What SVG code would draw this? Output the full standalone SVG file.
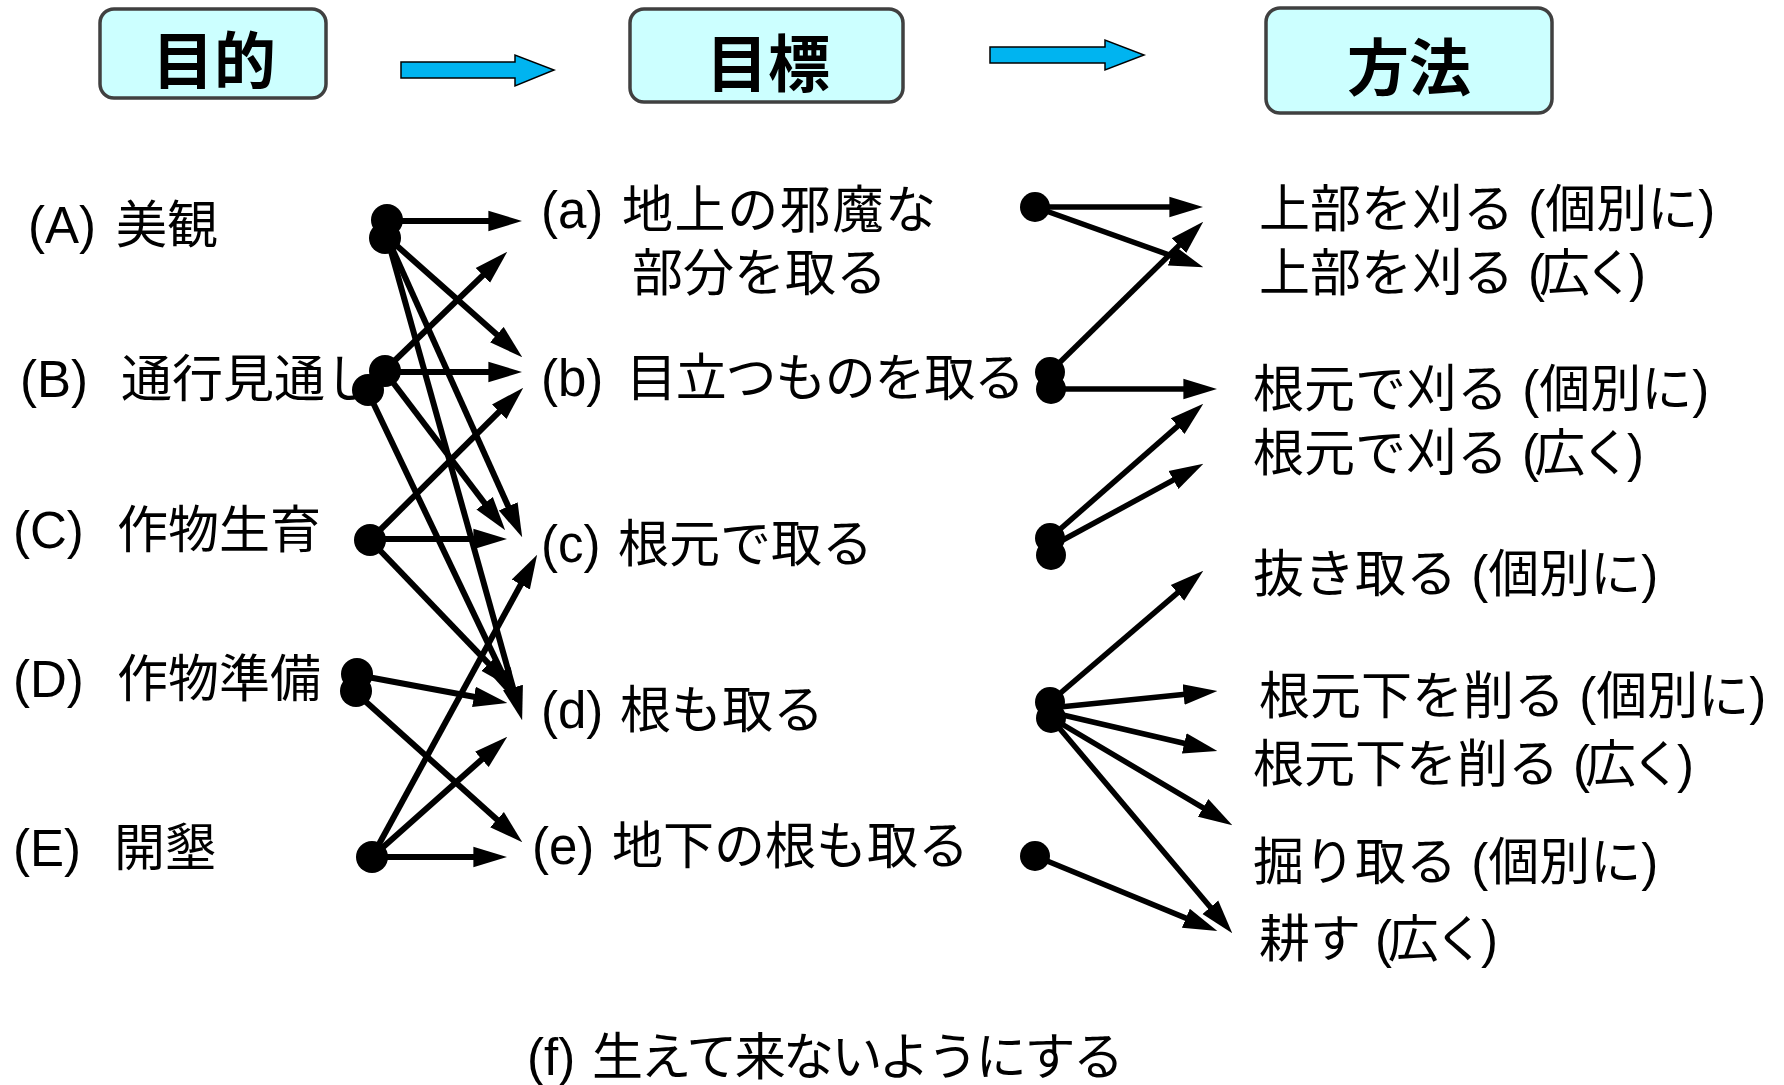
<svg xmlns="http://www.w3.org/2000/svg" width="1784" height="1085" viewBox="0 0 1784 1085">
<style>
.t{font-family:"Liberation Sans","Noto Sans CJK JP",sans-serif;font-size:51px;fill:#000}
.h{font-family:"Noto Sans CJK JP","Liberation Sans",sans-serif;font-size:62px;font-weight:bold;fill:#000;text-anchor:middle;dominant-baseline:central}
.box{fill:#CCFFFF;stroke:#404040;stroke-width:3.5}
.barrow{fill:#00B4F0;stroke:#000;stroke-width:1.5}
.ln{stroke:#000;stroke-width:6;fill:none;marker-end:url(#ah)}
.rl{stroke:#000;stroke-width:5.5;fill:none;marker-end:url(#ah)}
.dot{fill:#000}
</style>
<defs>
<marker id="ah" markerUnits="userSpaceOnUse" markerWidth="34" markerHeight="22" viewBox="0 0 33 20" refX="21" refY="10" orient="auto"><path d="M0,0 L33,10 L0,20 z" fill="#000"/></marker>
</defs>
<rect width="1784" height="1085" fill="#fff"/>

<g id="header-mokuteki"><rect class="box" x="100" y="9" width="226" height="89" rx="14"/><text class="h" x="214" y="57">目的</text></g>
<g id="header-mokuhyo"><rect class="box" x="630" y="9" width="273" height="93" rx="14"/><text class="h" x="768" y="60">目標</text></g>
<g id="header-hoho"><rect class="box" x="1266" y="8" width="286" height="105" rx="14"/><text class="h" x="1409" y="64">方法</text></g>
<g id="header-arrow-1"><path class="barrow" d="M401,62 L515,62 L515,55 L554,70 L515,86 L515,78 L401,78 z"/></g>
<g id="header-arrow-2"><path class="barrow" d="M990,47 L1105,47 L1105,40 L1144,55 L1105,70 L1105,63 L990,63 z"/></g>

<g id="purposes">
<g id="purpose-A"><text class="t" y="243"><tspan x="28">(A)</tspan><tspan x="116">美観</tspan></text></g>
<g id="purpose-B"><text class="t" y="397"><tspan x="20">(B)</tspan><tspan x="121">通行見通し</tspan></text></g>
<g id="purpose-C"><text class="t" y="548"><tspan x="13">(C)</tspan><tspan x="117">作物生育</tspan></text></g>
<g id="purpose-D"><text class="t" y="697"><tspan x="13">(D)</tspan><tspan x="117">作物準備</tspan></text></g>
<g id="purpose-E"><text class="t" y="866"><tspan x="13">(E)</tspan><tspan x="114">開墾</tspan></text></g>
</g>

<g id="targets">
<g id="target-a"><text class="t" x="541" y="228">(a)</text><text class="t" x="622" y="228" textLength="314" lengthAdjust="spacing">地上の邪魔な</text><text class="t" x="632" y="291">部分を取る</text></g>
<g id="target-b"><text class="t" x="541" y="396">(b)</text><text class="t" x="626" y="396" textLength="399" lengthAdjust="spacing">目立つものを取る</text></g>
<g id="target-c"><text class="t" y="562"><tspan x="541">(c)</tspan><tspan x="618">根元で取る</tspan></text></g>
<g id="target-d"><text class="t" y="728"><tspan x="541">(d)</tspan><tspan x="620">根も取る</tspan></text></g>
<g id="target-e"><text class="t" y="864"><tspan x="532">(e)</tspan><tspan x="612">地下の根も取る</tspan></text></g>
<g id="target-f"><text class="t" x="527" y="1075">(f)</text><text class="t" x="592" y="1075" textLength="532" lengthAdjust="spacing">生えて来ないようにする</text></g>
</g>

<g id="methods">
<g id="method-1"><text class="t" x="1259" y="227">上部を刈る (個別に)</text></g>
<g id="method-2"><text class="t" x="1259" y="291">上部を刈る</text><text class="t" x="1528" y="291" textLength="118" lengthAdjust="spacing">(広く)</text></g>
<g id="method-3"><text class="t" x="1253" y="407">根元で刈る (個別に)</text></g>
<g id="method-4"><text class="t" x="1253" y="471">根元で刈る</text><text class="t" x="1522" y="471" textLength="122" lengthAdjust="spacing">(広く)</text></g>
<g id="method-5"><text class="t" x="1253" y="592">抜き取る (個別に)</text></g>
<g id="method-6"><text class="t" x="1259" y="714">根元下を削る (個別に)</text></g>
<g id="method-7"><text class="t" x="1253" y="782">根元下を削る</text><text class="t" x="1573" y="782" textLength="121" lengthAdjust="spacing">(広く)</text></g>
<g id="method-8"><text class="t" x="1253" y="880">掘り取る (個別に)</text></g>
<g id="method-9"><text class="t" x="1259" y="957">耕す</text><text class="t" x="1375" y="957" textLength="123" lengthAdjust="spacing">(広く)</text></g>
</g>

<g id="connectors">
<path class="ln" d="M387,221 L510,221"/>
<path class="ln" d="M387,237 L513,349"/>
<path class="ln" d="M387,237 L517.1,526.1"/>
<path class="ln" d="M387,237 L518.8,708.4"/>
<path class="ln" d="M385,370 L498.4,260.3"/>
<path class="ln" d="M385,372 L510,372"/>
<path class="ln" d="M385,372 L497.7,520.4"/>
<path class="ln" d="M367,390 L510.8,691.2"/>
<path class="ln" d="M370,540 L514.5,396.5"/>
<path class="ln" d="M370,539 L495,539"/>
<path class="ln" d="M370,540 L503.7,679.3"/>
<path class="ln" d="M357,675 L495.2,700.8"/>
<path class="ln" d="M355,692 L513.1,834"/>
<path class="ln" d="M372,857 L531.2,565.5"/>
<path class="ln" d="M372,857 L498,745"/>
<path class="ln" d="M372,857 L495,857"/>
<path class="rl" d="M1035,207 L1191,207"/>
<path class="rl" d="M1035,207 L1191.7,263"/>
<path class="rl" d="M1050,372 L1194.4,230.4"/>
<path class="rl" d="M1051,389 L1205,389"/>
<path class="rl" d="M1050,538 L1194,411.9"/>
<path class="rl" d="M1050,547 L1192.5,469.7"/>
<path class="rl" d="M1050,702 L1193.9,578.8"/>
<path class="rl" d="M1050,708 L1205.1,692.2"/>
<path class="rl" d="M1050,712 L1205.3,748.3"/>
<path class="rl" d="M1050,717 L1221.7,818.9"/>
<path class="rl" d="M1050,717 L1224.3,923.8"/>
<path class="rl" d="M1035,856 L1205.9,926.4"/>
</g>

<g id="dots">
<circle class="dot" cx="387" cy="220" r="16"/>
<circle class="dot" cx="385" cy="238" r="16"/>
<circle class="dot" cx="385" cy="371" r="16"/>
<circle class="dot" cx="368" cy="390" r="16"/>
<circle class="dot" cx="370" cy="540" r="16"/>
<circle class="dot" cx="357" cy="674" r="16"/>
<circle class="dot" cx="356" cy="691" r="16"/>
<circle class="dot" cx="372" cy="857" r="16"/>
<circle class="dot" cx="1035" cy="207" r="15"/>
<circle class="dot" cx="1050" cy="372" r="15"/>
<circle class="dot" cx="1051" cy="389" r="15"/>
<circle class="dot" cx="1050" cy="538" r="15"/>
<circle class="dot" cx="1051" cy="555" r="15"/>
<circle class="dot" cx="1050" cy="702" r="15"/>
<circle class="dot" cx="1051" cy="718" r="15"/>
<circle class="dot" cx="1035" cy="856" r="15"/>
</g>
</svg>
